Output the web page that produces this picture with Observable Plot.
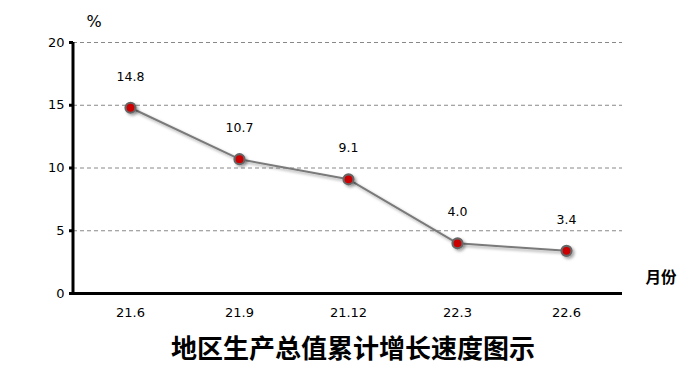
<!DOCTYPE html>
<html>
<head>
<meta charset="utf-8">
<script src="https://cdn.jsdelivr.net/npm/d3@7"></script>
<script src="https://cdn.jsdelivr.net/npm/@observablehq/plot@0.6"></script>
<style>
  body { margin: 0; background: #fff; }
  #chart svg { display: block; }
  #title { width: 698px; height: 56px; line-height: 54px; text-align: center; padding-left: 8px; box-sizing: border-box;
    font-family: "Noto Sans CJK SC", sans-serif; font-weight: bold; font-size: 26px; color: #000; }
</style>
</head>
<body>
<div id="chart"></div>
<div id="title"></div>
<script>
const months = ["21.6", "21.9", "21.12", "22.3", "22.6"];
const growth = [14.8, 10.7, 9.1, 4.0, 3.4];
const yTicks = [0, 5, 10, 15, 20];
const gridTicks = [5, 10, 15, 20];
const yUnit = "%";
const xUnit = "月份";
const titleText = "地区生产总值累计增长速度图示";

const data = months.map((m, i) => ({month: m, value: growth[i]}));
const font = "DejaVu Sans, Verdana, sans-serif";

const chart = Plot.plot({
  width: 698,
  height: 320,
  marginLeft: 73,
  marginRight: 76,
  marginTop: 42,
  marginBottom: 27,
  style: {fontFamily: font, fontSize: "13px", color: "#000", background: "#fff"},
  x: {type: "point", domain: months, padding: 0.5, label: null, tickSize: 0, tickPadding: 14},
  y: {domain: [0, 20], ticks: yTicks, label: null, tickSize: 4, tickPadding: 5},
  marks: [
    Plot.ruleY(gridTicks, {stroke: "#888", strokeWidth: 1, strokeDasharray: "4,3"}),
    Plot.ruleY([0], {stroke: "#000", strokeWidth: 3}),
    Plot.line(data, {x: "month", y: "value", stroke: "#7a7a7a", strokeWidth: 2}),
    Plot.dot(data, {x: "month", y: "value", r: 5, fill: "#cc0000", stroke: "#666", strokeWidth: 2.2}),
    Plot.text(data, {x: "month", y: "value", text: d => d.value.toFixed(1), dy: -31, fill: "#000", fontSize: 12.5}),
    Plot.text([yUnit], {frameAnchor: "top-left", dx: 13, dy: -27, fontSize: 16, fill: "#000"}),
    Plot.text([xUnit], {frameAnchor: "bottom-right", dx: 54, dy: -11, fontSize: 15.5, fontWeight: "bold", fill: "#000", fontFamily: "Noto Sans CJK SC, sans-serif"})
  ]
});

const svg = d3.select(chart);
svg.selectAll("g[aria-label='y-axis tick']").attr("stroke", "#000").attr("stroke-width", 3);
const defs = svg.insert("defs", ":first-child");
const f = defs.append("filter").attr("id", "shadow").attr("x", "-50%").attr("y", "-50%").attr("width", "200%").attr("height", "200%");
f.append("feDropShadow").attr("dx", 2).attr("dy", 2).attr("stdDeviation", 1.5).attr("flood-color", "#000").attr("flood-opacity", 0.35);
svg.selectAll("g[aria-label='line'], g[aria-label='dot']").attr("filter", "url(#shadow)");
const yr = chart.scale("y").range;
svg.append("line")
  .attr("x1", 73).attr("x2", 73)
  .attr("y1", Math.min(...yr)).attr("y2", Math.max(...yr) + 1.5)
  .attr("stroke", "#000").attr("stroke-width", 3);

document.getElementById("chart").appendChild(chart);
document.getElementById("title").textContent = titleText;
</script>
</body>
</html>
